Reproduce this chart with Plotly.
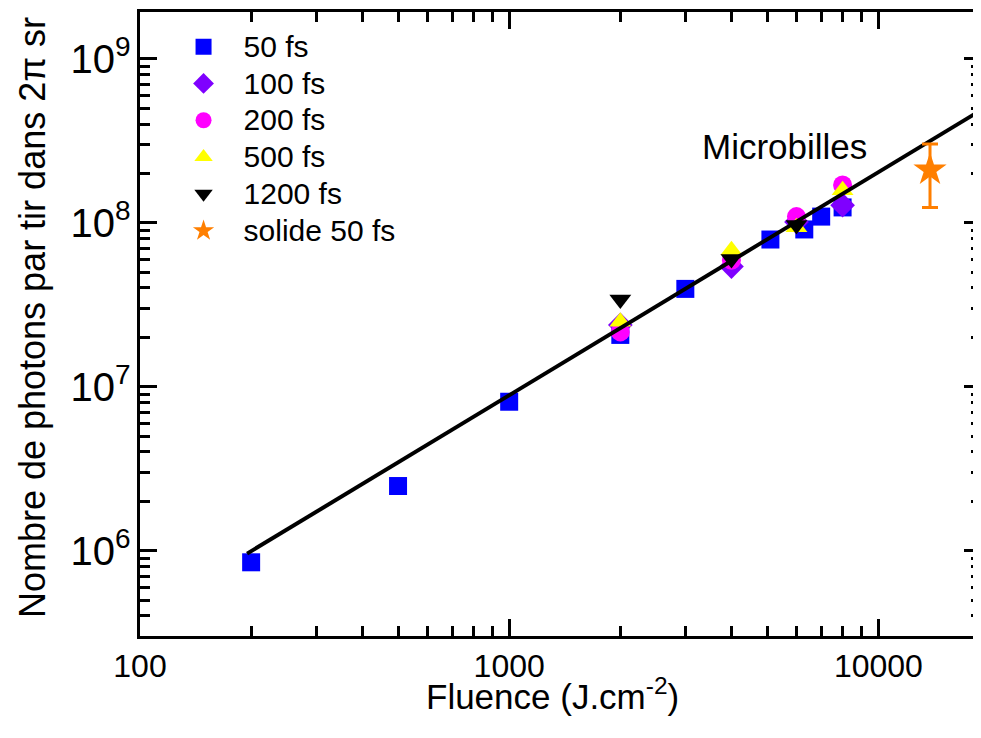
import math
import plotly.graph_objects as go

# ---- data ----
x_50 = [200, 500, 1000, 2000, 3000, 5100, 6300, 7000, 8000]
y_50 = [8.5e5, 2.48e6, 8.1e6, 2.07e7, 3.95e7, 7.9e7, 9.1e7, 1.09e8, 1.24e8]

x_100 = [2000, 4000, 6000, 8000]
y_100 = [2.38e7, 5.4e7, 1.01e8, 1.28e8]

x_200 = [2000, 4000, 6000, 8000]
y_200 = [2.16e7, 5.9e7, 1.09e8, 1.70e8]

x_500 = [2000, 4000, 6000, 8000]
y_500 = [2.49e7, 6.8e7, 9.4e7, 1.58e8]

x_1200 = [2000, 4000, 6000]
y_1200 = [3.4e7, 6.0e7, 9.7e7]

x_solid = [13800]
y_solid = [2.1e8]
err_plus = [0.92e8]
err_minus = [0.86e8]

fit_x = [195, 19000]
fit_y = [9.6e5, 4.87e8]

annot_text = "Microbilles"
annot_x = 5585
annot_y = 2.9e8

x_title = "Fluence (J.cm<sup>-2</sup>)"
y_title = "Nombre de photons par tir dans 2π sr"

FONT = "Liberation Sans, Arial, sans-serif"

fig = go.Figure()

def lg(name):
    return '<span style="font-size:30px">' + name + '</span>'

def add(x, y, name, symbol, color, size):
    fig.add_trace(go.Scatter(
        x=x, y=y, mode="markers", name=lg(name),
        marker=dict(symbol=symbol, color=color, size=size, line=dict(width=0)),
    ))

add(x_50, y_50, "50 fs", "square", "#0000FF", 18)
add(x_100, y_100, "100 fs", "diamond", "#7F00FF", 19)
add(x_200, y_200, "200 fs", "circle", "#FF00FF", 19)
add(x_500, y_500, "500 fs", "triangle-up", "#FFFF00", 19)
add(x_1200, y_1200, "1200 fs", "triangle-down", "#000000", 19)

fig.add_trace(go.Scatter(
    x=fit_x, y=fit_y, mode="lines", showlegend=False,
    line=dict(color="black", width=4),
))

fig.add_trace(go.Scatter(
    x=x_solid, y=y_solid, mode="markers", name=lg("solide 50 fs"),
    marker=dict(symbol="star", color="#FF7F00", size=25, line=dict(width=0)),
    error_y=dict(type="data", array=err_plus, arrayminus=err_minus,
                 color="#FF7F00", thickness=3, width=8),
))

fig.add_annotation(x=math.log10(annot_x), y=math.log10(annot_y),
                   text=annot_text, showarrow=False,
                   font=dict(family=FONT, size=35, color="black"))

fig.add_annotation(xref="paper", yref="paper", x=0.49, y=-0.093,
                   xanchor="center", yanchor="middle", text=x_title, showarrow=False,
                   font=dict(family=FONT, size=35, color="black"))
fig.add_annotation(xref="paper", yref="paper", x=-0.128, y=0.51,
                   xanchor="center", yanchor="middle", text=y_title, showarrow=False,
                   textangle=-90,
                   font=dict(family=FONT, size=36, color="black"))

axis_common = dict(
    type="log", showline=True, linecolor="black", linewidth=3,
    mirror="allticks", ticks="inside", ticklen=17, tickwidth=3, tickcolor="black",
    showgrid=False, zeroline=False, dtick=1, automargin=False,
    minor=dict(ticks="inside", ticklen=10, tickwidth=3, tickcolor="black",
               dtick="D1", showgrid=False),
)

fig.update_xaxes(
    **axis_common, range=[2, 4.278], exponentformat="none", tickformat="d",
    tickfont=dict(family=FONT, size=32, color="black"),
)
fig.update_yaxes(
    **axis_common, range=[5.48, 9.285], exponentformat="power",
    tickfont=dict(family=FONT, size=32, color="black"),
)

fig.update_layout(
    width=973, height=730,
    margin=dict(l=132, r=0, t=4, b=102),
    paper_bgcolor="white", plot_bgcolor="white",
    font=dict(family=FONT, color="black"),
    legend=dict(x=0.028, y=0.982, xanchor="left", yanchor="top",
                bgcolor="rgba(0,0,0,0)", font=dict(family=FONT, size=26, color="black"),
                itemwidth=70),
)

fig.write_html("out.html")
